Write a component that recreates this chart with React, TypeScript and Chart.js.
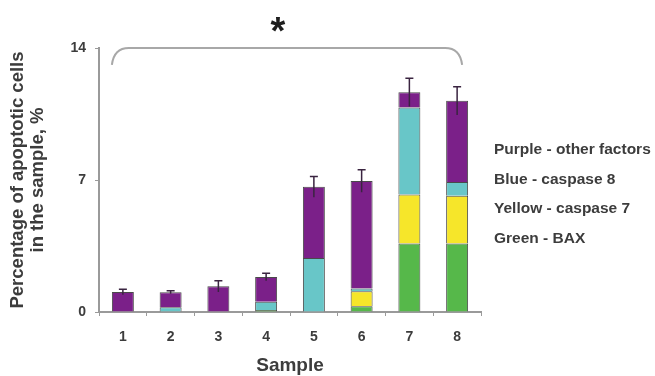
import React, { useEffect, useRef } from "react";
import { Chart, registerables } from "chart.js";
Chart.register(...registerables);

const samples = ["1", "2", "3", "4", "5", "6", "7", "8"];
const green = [0, 0, 0, 0.1, 0, 0.3, 3.63, 3.63];
const yellow = [0, 0, 0, 0, 0, 0.8, 2.6, 2.53];
const blue = [0, 0.25, 0, 0.45, 2.87, 0.15, 4.62, 0.74];
const purple = [1.06, 0.8, 1.36, 1.31, 3.77, 5.7, 0.8, 4.3];
const errors = [0.15, 0.08, 0.3, 0.2, 0.55, 0.6, 0.75, 0.75];
const yTicks = [0, 7, 14];
const legendLines = [
  "Purple - other factors",
  "Blue - caspase 8",
  "Yellow - caspase 7",
  "Green - BAX",
];
const yTitle = ["Percentage of apoptotic cells", "in the sample, %"];
const xTitle = "Sample";
const significance = "*";
const bracketTop = 14;
const bracketEnd = 13.1;

const FONT = "'Liberation Sans', Arial, sans-serif";
const TEXT = "#3c3c3c";
const AXIS = "#9a9a9a";

const extrasPlugin = {
  id: "extras",
  afterDatasetsDraw(chart: any) {
    const { ctx, scales } = chart;
    const x = scales.x;
    const y = scales.y;
    ctx.save();
    // error bars
    ctx.strokeStyle = "#3a2440";
    ctx.lineWidth = 1.5;
    samples.forEach((_, i) => {
      const total = green[i] + yellow[i] + blue[i] + purple[i];
      const px = x.getPixelForValue(i);
      const yt = y.getPixelForValue(total + errors[i]);
      const yb = y.getPixelForValue(total - errors[i]);
      ctx.beginPath();
      ctx.moveTo(px, yb);
      ctx.lineTo(px, yt);
      ctx.moveTo(px - 4, yt);
      ctx.lineTo(px + 4, yt);
      ctx.stroke();
    });
    // bracket
    const xl = x.getPixelForValue(0) - 11;
    const xr = x.getPixelForValue(samples.length - 1) + 5;
    const yt = y.getPixelForValue(bracketTop);
    const ye = y.getPixelForValue(bracketEnd);
    const r = 17;
    ctx.strokeStyle = "#a8a8a8";
    ctx.lineWidth = 2;
    ctx.beginPath();
    ctx.moveTo(xl, ye);
    ctx.quadraticCurveTo(xl + 2, yt, xl + r, yt);
    ctx.lineTo(xr - r, yt);
    ctx.quadraticCurveTo(xr - 2, yt, xr, ye);
    ctx.stroke();
    // asterisk
    ctx.fillStyle = "#1e1e1e";
    ctx.font = `bold 38px ${FONT}`;
    ctx.textAlign = "center";
    ctx.textBaseline = "alphabetic";
    ctx.fillText(significance, (xl + xr) / 2 - 9, yt - 4);
    // legend text
    ctx.fillStyle = TEXT;
    ctx.font = `bold 15.5px ${FONT}`;
    ctx.textAlign = "left";
    ctx.textBaseline = "middle";
    legendLines.forEach((t, i) => {
      ctx.fillText(t, chart.chartArea.right + 13, 150 + i * 29.5);
    });
    ctx.restore();
  },
};

export default function App() {
  const ref = useRef<HTMLCanvasElement>(null);
  useEffect(() => {
    if (!ref.current) return;
    const border = "#4a4a4a";
    const mk = (label: string, data: number[], color: string) => ({
      label,
      data,
      backgroundColor: color,
      borderColor: border,
      borderWidth: 1,
      barPercentage: 0.46,
      categoryPercentage: 1,
    });
    const chart = new Chart(ref.current, {
      type: "bar",
      data: {
        labels: samples,
        datasets: [
          mk("Green - BAX", green, "#56b84a"),
          mk("Yellow - caspase 7", yellow, "#f6e62a"),
          mk("Blue - caspase 8", blue, "#68c6c8"),
          mk("Purple - other factors", purple, "#7b2089"),
        ],
      },
      options: {
        animation: false,
        responsive: false,
        devicePixelRatio: 1,
        layout: { padding: { left: 0, right: 174, top: 48, bottom: 0 } },
        plugins: { legend: { display: false }, tooltip: { enabled: false } },
        scales: {
          x: {
            stacked: true,
            afterFit: (s: any) => {
              s.height = 64;
            },
            grid: {
              offset: true,
              drawOnChartArea: false,
              drawTicks: true,
              tickLength: 4,
              color: AXIS,
            },
            border: { display: true, color: AXIS, width: 2 },
            ticks: {
              padding: 13,
              color: TEXT,
              font: { family: FONT, size: 14, weight: "bold" },
            },
            title: {
              display: true,
              text: xTitle,
              color: TEXT,
              padding: { top: 0, bottom: 0 },
              font: { family: FONT, size: 19, weight: "bold", lineHeight: 1.1 },
            },
          },
          y: {
            stacked: true,
            min: 0,
            max: 14,
            afterFit: (s: any) => {
              s.width = 99;
            },
            afterBuildTicks: (s: any) => {
              s.ticks = yTicks.map((v) => ({ value: v }));
            },
            grid: {
              drawOnChartArea: false,
              drawTicks: true,
              tickLength: 4,
              color: AXIS,
            },
            border: { display: true, color: AXIS, width: 2 },
            ticks: {
              padding: 9,
              color: TEXT,
              font: { family: FONT, size: 14, weight: "bold" },
            },
            title: {
              display: true,
              text: yTitle,
              color: TEXT,
              padding: { top: 8, bottom: 0 },
              font: { family: FONT, size: 18.5, weight: "bold", lineHeight: 1.08 },
            },
          },
        },
      },
      plugins: [extrasPlugin],
    });
    return () => chart.destroy();
  }, []);
  return (
    <div
      style={{
        position: "fixed",
        left: 0,
        top: 0,
        width: 655,
        height: 376,
        background: "#fff",
      }}
    >
      <canvas ref={ref} width={655} height={376} style={{ width: 655, height: 376 }} />
    </div>
  );
}
